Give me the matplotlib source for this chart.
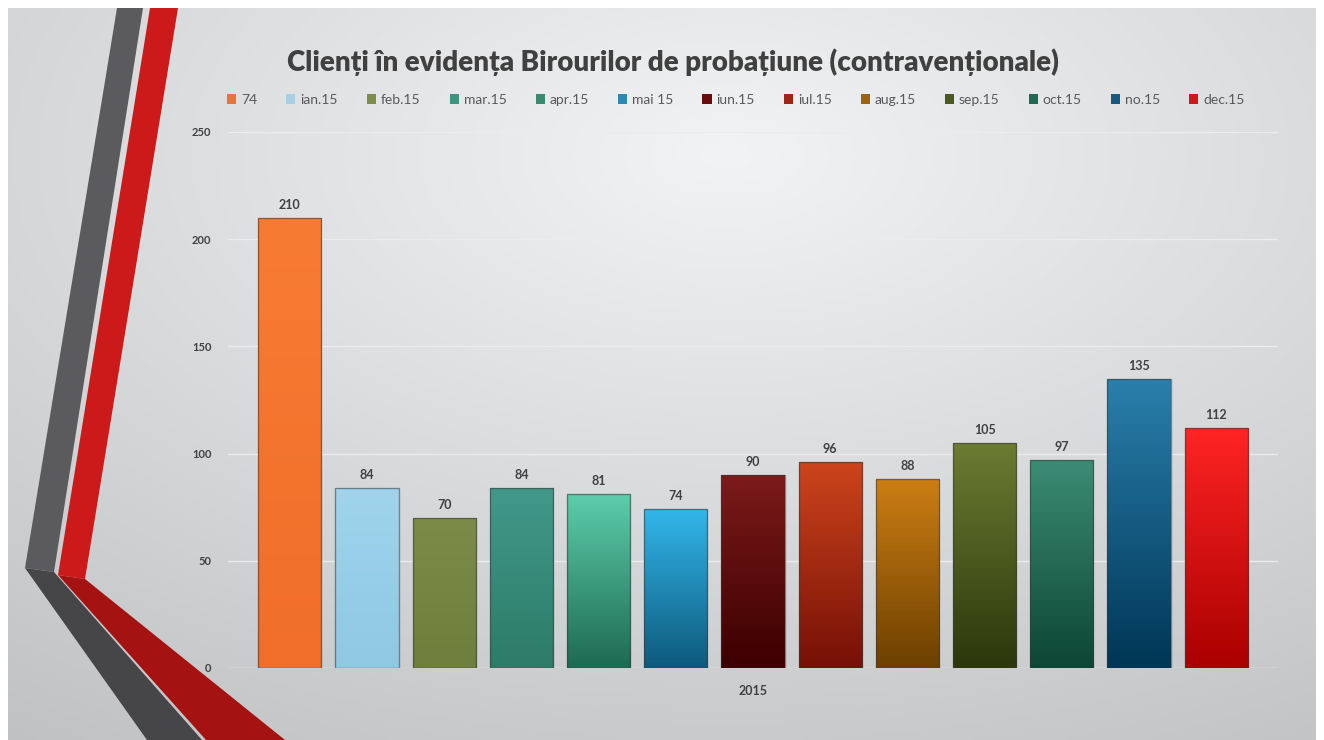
import matplotlib
matplotlib.use("Agg")
import matplotlib.pyplot as plt
import numpy as np
from matplotlib.colors import LinearSegmentedColormap
from matplotlib.patches import Polygon

# data
labels = ["74", "ian.15", "feb.15", "mar.15", "apr.15", "mai 15", "iun.15",
          "iul.15", "aug.15", "sep.15", "oct.15", "no.15", "dec.15"]
values = [210, 84, 70, 84, 81, 74, 90, 96, 88, 105, 97, 135, 112]
category = "2015"
yticks = [0, 50, 100, 150, 200, 250]
title = "Clienți în evidența Birourilor de probațiune (contravenționale)"

# bar gradient colours (top, bottom) and legend colour
top_colors = ["#f87b33", "#9fd4ec", "#7c8c48", "#42998a", "#5ccdaa", "#32b6ea",
              "#7c1a1a", "#cc441c", "#cc7e14", "#6c7c32", "#3c8c74", "#2a80ac", "#ff2424"]
bot_colors = ["#f06e2a", "#90c8e2", "#6e7e3c", "#2c7c68", "#1e6a52", "#0e5a7c",
              "#3c0000", "#761006", "#6c4000", "#2c380c", "#0c4634", "#003656", "#aa0000"]
leg_colors = ["#e8743a", "#a8d0e0", "#7e8c4c", "#3f9480", "#3a8a70", "#2a8ab4",
              "#6a0c0c", "#a02414", "#9c6410", "#4c5a22", "#1e6a52", "#145a80", "#d01818"]

W, H = 1324, 740
fig = plt.figure(figsize=(W / 100, H / 100), dpi=100)
fig.patch.set_facecolor("white")

# background gradient + decorative stripes (pixel coordinates)
bg = fig.add_axes([0, 0, 1, 1], zorder=0)
bg.set_xlim(0, W)
bg.set_ylim(H, 0)
bg.axis("off")
gx, gy = np.meshgrid(np.linspace(0, 1, 300), np.linspace(0, 1, 200))
d = np.sqrt(((gx - 0.55) / 0.9) ** 2 + ((gy - 0.2) / 0.9) ** 2)
shade = np.clip(243 - 46 * d, 190, 245) / 255.0
img = np.dstack([shade * 0.995, shade, shade * 1.005])
bg.imshow(np.clip(img, 0, 1), extent=(8, W - 8, H, 8), aspect="auto",
          interpolation="bilinear", zorder=0)
bg.add_patch(Polygon([(117, 8), (143, 8), (54, 572), (25, 568)],
                     closed=True, color="#5b5b5d", lw=0, zorder=2))
bg.add_patch(Polygon([(25, 568), (54, 572), (202, H), (147, H)],
                     closed=True, color="#464648", lw=0, zorder=2))
bg.add_patch(Polygon([(150, 8), (178, 8), (85, 579), (58, 575)],
                     closed=True, color="#cc1a1a", lw=0, zorder=2))
bg.add_patch(Polygon([(58, 575), (85, 579), (285, H), (206, H)],
                     closed=True, color="#a51212", lw=0, zorder=2))

ax = fig.add_axes([228 / W, 72 / H, 1050 / W, 536 / H], zorder=1)
ax.patch.set_alpha(0)
x = np.arange(len(values))
bars = ax.bar(x, values, width=0.82, color=leg_colors, edgecolor="none", zorder=2)
for i, b in enumerate(bars):
    cmap = LinearSegmentedColormap.from_list("g", [bot_colors[i], top_colors[i]])
    grad = np.linspace(0, 1, 100).reshape(-1, 1)
    x0, w, h = b.get_x(), b.get_width(), b.get_height()
    im = ax.imshow(grad, cmap=cmap, origin="lower", aspect="auto",
                   extent=(x0, x0 + w, 0, h), zorder=2.5, interpolation="bilinear")
    im.set_clip_path(b)
ax.bar(x, values, width=0.82, fill=False,
       edgecolor="#3a3a3a", linewidth=1.0, alpha=0.55, zorder=3)
for xi, v in zip(x, values):
    ax.annotate(str(v), (xi, v), xytext=(0, 5), textcoords="offset points",
                ha="center", va="bottom", fontsize=9, color="#404040",
                fontweight="bold", fontfamily="Lato")

ax.set_xlim(-0.8, 12.8)
ax.set_ylim(0, 250)
ax.set_yticks(yticks)
ax.set_yticklabels([str(t) for t in yticks], fontsize=8, color="#404040",
                   fontweight="bold", fontfamily="Lato")
ax.set_xticks([6])
ax.set_xticklabels([category], fontsize=9, color="#404040",
                   fontweight="bold", fontfamily="Lato")
ax.tick_params(axis="both", length=0)
ax.tick_params(axis="x", pad=12)
ax.tick_params(axis="y", pad=12)
ax.yaxis.grid(True, color="#ececec", linewidth=1.0, zorder=0)
ax.set_axisbelow(True)
for s in ax.spines.values():
    s.set_visible(False)

fig.text(673 / W, 1 - 62 / H, title, ha="center", va="center", fontsize=20,
         fontweight="heavy", color="#404040", fontfamily="Lato")

leg = fig.legend(bars.patches, labels, loc="center", ncol=13,
                 bbox_to_anchor=(736 / W, 1 - 100 / H), frameon=False,
                 handlelength=0.65, handleheight=0.65, handletextpad=0.35,
                 columnspacing=2.1, prop={"family": "Lato", "size": 10})
for t in leg.get_texts():
    t.set_color("#595959")

fig.savefig("out.png", dpi=100)
